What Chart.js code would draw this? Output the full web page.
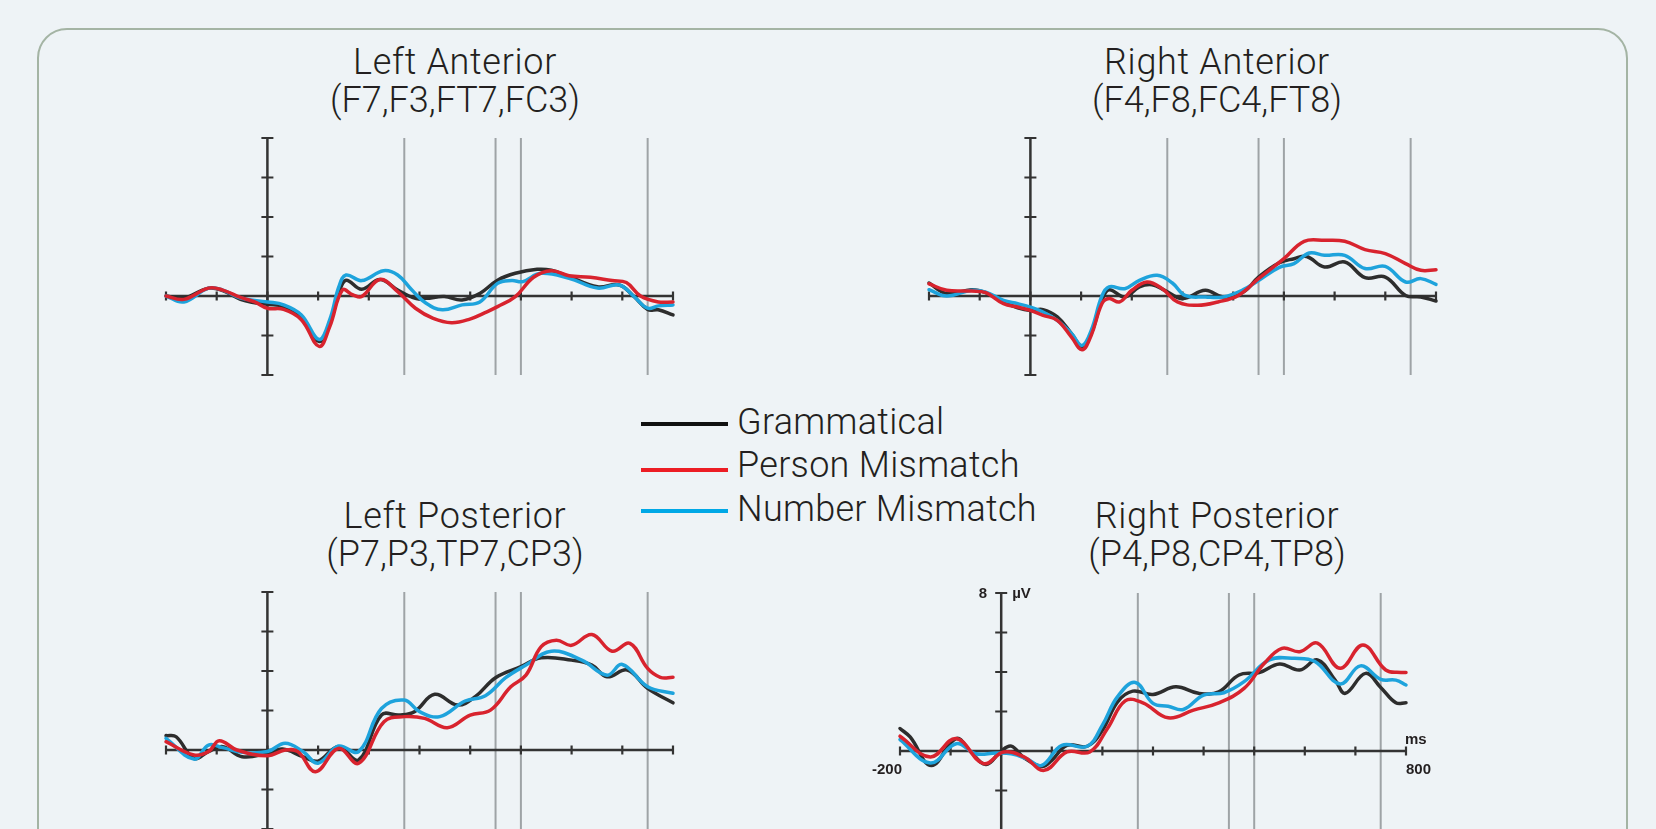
<!DOCTYPE html>
<html>
<head>
<meta charset="utf-8">
<script src="https://cdn.jsdelivr.net/npm/chart.js@4.4.1/dist/chart.umd.min.js"></script>
<style>
  html, body { margin: 0; padding: 0; }
  body {
    width: 1656px; height: 829px; overflow: hidden; position: relative;
    background: #eef3f6; color: #231f20;
    font-family: Roboto, "Liberation Sans", sans-serif;
  }
  .frame {
    position: absolute; left: 37px; top: 28px; width: 1591px; height: 840px;
    box-sizing: border-box; border: 2px solid #a4b4a4; border-radius: 30px;
  }
  .title {
    position: absolute; transform: translateX(-50%); white-space: nowrap;
    text-align: center; font-size: 36px; line-height: 38px; font-weight: 300;
  }
  .title .name { letter-spacing: 0.7px; }
  .panel { position: absolute; }
  .legend { position: absolute; left: 641px; top: 401px; }
  .legend .row { position: absolute; white-space: nowrap; font-size: 36px; line-height: 42px; font-weight: 300; letter-spacing: 0.3px; }
  .legend .swatch { position: absolute; left: 0; width: 87px; height: 4px; }
  .legend .label { left: 96px; }
</style>
</head>
<body>
<div class="frame"></div>

<div class="title" style="left:455px; top:43px;"><span class="name">Left Anterior</span><br>(F7,F3,FT7,FC3)</div>
<div class="title" style="left:1217px; top:43px;"><span class="name">Right Anterior</span><br>(F4,F8,FC4,FT8)</div>
<div class="title" style="left:455px; top:497px;"><span class="name">Left Posterior</span><br>(P7,P3,TP7,CP3)</div>
<div class="title" style="left:1217px; top:497px;"><span class="name">Right Posterior</span><br>(P4,P8,CP4,TP8)</div>

<div class="legend">
  <div class="swatch" style="top:21px; background:#111111;"></div>
  <div class="row label" style="top:0px;">Grammatical</div>
  <div class="swatch" style="top:67px; background:#ec1c24;"></div>
  <div class="row label" style="top:43px;">Person Mismatch</div>
  <div class="swatch" style="top:108px; background:#00a8e6;"></div>
  <div class="row label" style="top:87px;">Number Mismatch</div>
</div>

<script>
// Epoch and amplitude ranges (ms, µV)
const timeTicks = [-200, -100, 0, 100, 200, 300, 400, 500, 600, 700, 800];
const voltTicks = [-4, -2, 0, 2, 4, 6, 8];
const windowMarks = [270, 450, 500, 750];

// Grand-average waveforms: [time (ms), amplitude (µV)]
const laGrammatical = [[-200,0],[-165,-0.1],[-116,0.4],[-88,0.27],[-53,-0.17],[-25,-0.34],[0,-0.42],[32,-0.54],[67,-1.05],[102,-2.3],[123,-1.4],[141,0.13],[155,0.8],[186,0.34],[222,0.84],[257,0.3],[292,-0.12],[313,-0.12],[349,-0.03],[384,-0.2],[419,0.13],[454,0.8],[489,1.15],[532,1.35],[560,1.3],[595,0.98],[651,0.47],[694,0.56],[722,0],[750,-0.68],[771,-0.7],[800,-0.96]];
const laPerson = [[-200,0],[-165,-0.17],[-116,0.4],[-88,0.3],[-53,-0.07],[-25,-0.3],[0,-0.62],[32,-0.68],[67,-1.2],[102,-2.55],[123,-1.55],[148,0.3],[169,0.05],[186,-0.03],[222,0.84],[257,0.22],[292,-0.62],[327,-1.13],[363,-1.35],[398,-1.18],[433,-0.8],[454,-0.54],[489,-0.03],[525,0.95],[560,1.28],[595,1.03],[637,0.95],[680,0.78],[708,0.68],[736,0],[771,-0.3],[800,-0.3]];
const laNumber = [[-200,0],[-165,-0.3],[-116,0.4],[-88,0.3],[-53,-0.1],[0,-0.3],[32,-0.45],[67,-0.96],[102,-2.2],[123,-1.2],[141,0.47],[155,1.06],[186,0.78],[229,1.28],[257,1.06],[285,0.3],[313,-0.37],[345,-0.7],[384,-0.45],[419,-0.3],[454,0.64],[482,0.78],[504,0.73],[539,1.15],[595,0.9],[651,0.4],[694,0.56],[722,0],[750,-0.62],[771,-0.5],[800,-0.45]];

const raGrammatical = [[-200,0.66],[-165,0.12],[-116,0.32],[-88,0.17],[-53,-0.3],[-25,-0.6],[0,-0.73],[25,-0.69],[53,-1.06],[81,-1.9],[102,-2.55],[120,-1.9],[141,-0.22],[155,0.32],[186,-0.05],[215,0.46],[240,0.57],[265,0.29],[300,-0.13],[345,0.29],[380,-0.05],[420,0.2],[450,0.96],[490,1.67],[520,1.89],[545,2.0],[580,1.47],[620,1.72],[660,0.93],[700,0.96],[740,0.03],[770,-0.05],[800,-0.25]];
const raPerson = [[-200,0.62],[-165,0.29],[-116,0.25],[-88,0.17],[-53,-0.39],[-25,-0.56],[0,-0.73],[25,-0.98],[53,-1.23],[81,-2.08],[102,-2.72],[120,-1.99],[141,-0.39],[155,-0.13],[176,-0.3],[200,0.29],[230,0.71],[260,0.37],[290,-0.3],[330,-0.47],[370,-0.3],[410,0.03],[450,0.88],[500,1.89],[540,2.77],[580,2.82],[620,2.77],[660,2.35],[700,2.15],[740,1.64],[770,1.3],[800,1.33]];
const raNumber = [[-200,0.32],[-165,0],[-116,0.29],[-88,0.2],[-53,-0.22],[-25,-0.39],[0,-0.56],[25,-0.81],[53,-1.23],[81,-1.9],[102,-2.5],[120,-1.74],[141,0],[155,0.46],[186,0.37],[215,0.79],[250,1.05],[280,0.66],[305,0.03],[345,-0.05],[380,-0.05],[420,0.32],[450,0.79],[490,1.44],[520,1.64],[550,2.18],[580,2.06],[620,2.06],[660,1.39],[700,1.5],[740,0.71],[770,0.88],[800,0.59]];

const lpGrammatical = [[-200,0.73],[-180,0.67],[-145,-0.42],[-116,-0.08],[-88,0.17],[-50,-0.34],[0,-0.17],[30,0.05],[70,-0.34],[100,-0.56],[140,0.17],[180,-0.5],[225,1.77],[260,1.77],[290,1.94],[330,2.82],[375,2.28],[410,2.7],[450,3.66],[500,4.22],[540,4.67],[600,4.55],[640,4.3],[670,3.71],[710,4.05],[750,3.12],[800,2.39]];
const lpPerson = [[-200,0.42],[-145,-0.25],[-116,-0.08],[-95,0.47],[-60,0],[0,-0.29],[35,0],[60,-0.08],[95,-1.1],[140,0.08],[180,-0.67],[230,1.43],[270,1.69],[310,1.6],[355,1.13],[400,1.77],[440,2.02],[480,3.2],[510,3.79],[540,5.23],[570,5.56],[600,5.3],[640,5.85],[680,5.0],[715,5.4],[750,4.13],[775,3.68],[800,3.68]];
const lpNumber = [[-200,0.59],[-145,-0.46],[-116,0.25],[-88,0.12],[-50,-0.12],[0,-0.08],[35,0.34],[70,-0.08],[100,-0.67],[140,0.2],[180,-0.08],[225,2.1],[270,2.53],[300,1.94],[340,1.69],[390,2.48],[430,2.75],[470,3.66],[510,4.3],[560,5.0],[620,4.55],[670,3.79],[700,4.33],[750,3.2],[800,2.87]];

const rpGrammatical = [[-200,1.14],[-180,0.71],[-138,-0.73],[-89,0.63],[-60,-0.05],[-30,-0.68],[0,0],[20,0.25],[45,-0.34],[80,-0.78],[100,-0.47],[130,0.29],[170,0.24],[200,1.05],[230,2.49],[260,3.03],[300,2.86],[345,3.25],[390,2.92],[430,3.0],[470,3.85],[510,3.97],[550,4.41],[590,4.1],[625,4.61],[660,3.59],[680,2.92],[720,3.93],[750,3.22],[780,2.44],[800,2.44]];
const rpPerson = [[-200,0.75],[-140,-0.3],[-89,0.63],[-35,-0.64],[5,-0.05],[45,-0.3],[85,-0.98],[130,-0.05],[175,-0.05],[210,1.14],[245,2.54],[280,2.44],[330,1.68],[380,2.07],[430,2.44],[480,3.17],[520,4.44],[555,5.2],[590,5.03],[625,5.46],[670,4.19],[715,5.37],[760,4.1],[790,3.98],[800,3.98]];
const rpNumber = [[-200,0.58],[-140,-0.61],[-89,0.37],[-50,-0.14],[-10,-0.1],[20,-0.14],[50,-0.39],[80,-0.73],[120,0.29],[170,0.24],[200,1.31],[230,2.75],[265,3.47],[300,2.41],[330,2.27],[360,2.1],[400,2.83],[440,2.95],[480,3.51],[530,4.61],[580,4.69],[620,4.53],[670,3.39],[710,4.31],[750,3.63],[780,3.59],[800,3.34]];

const seriesColors = { grammatical: '#2d2d2d', person: '#d8232e', number: '#1ea3dc' };

// Plot rectangles (page px) for the four electrode regions
const panels = [
  { id: 'la', left: 166, top: 138, width: 507, height: 237, series: [laGrammatical, laPerson, laNumber], labels: false },
  { id: 'ra', left: 929, top: 138, width: 507, height: 237, series: [raGrammatical, raPerson, raNumber], labels: false },
  { id: 'lp', left: 166, top: 592, width: 507, height: 237, series: [lpGrammatical, lpPerson, lpNumber], labels: false },
  { id: 'rp', left: 900, top: 593, width: 506, height: 237, series: [rpGrammatical, rpPerson, rpNumber], labels: true }
];

// Cross-shaped axes through the origin, analysis-window markers and scale labels
const erpAxes = {
  id: 'erpAxes',
  beforeDatasetsDraw(chart, args, opts) {
    const { ctx, scales: { x, y } } = chart;
    const x0 = x.getPixelForValue(0), y0 = y.getPixelForValue(0);
    const yTop = y.getPixelForValue(voltTicks[voltTicks.length - 1]);
    const yBot = y.getPixelForValue(voltTicks[0]);
    const xL = x.getPixelForValue(timeTicks[0]);
    const xR = x.getPixelForValue(timeTicks[timeTicks.length - 1]);
    ctx.save();
    ctx.lineCap = 'butt';
    // window markers
    ctx.strokeStyle = '#9ea3a6';
    ctx.lineWidth = 2;
    windowMarks.forEach(t => {
      const px = x.getPixelForValue(t);
      ctx.beginPath(); ctx.moveTo(px, yTop); ctx.lineTo(px, yBot); ctx.stroke();
    });
    // axes
    ctx.strokeStyle = '#333333';
    ctx.lineWidth = 2.5;
    ctx.beginPath();
    ctx.moveTo(xL, y0); ctx.lineTo(xR, y0);
    ctx.moveTo(x0, yTop); ctx.lineTo(x0, yBot);
    ctx.stroke();
    ctx.lineWidth = 2.2;
    ctx.beginPath();
    voltTicks.forEach(v => {
      const py = y.getPixelForValue(v);
      ctx.moveTo(x0 - 6, py); ctx.lineTo(x0 + 6, py);
    });
    timeTicks.forEach(t => {
      const px = x.getPixelForValue(t);
      ctx.moveTo(px, y0 - 4.5); ctx.lineTo(px, y0 + 4.5);
    });
    ctx.stroke();
    if (opts.labels) {
      ctx.fillStyle = '#231f20';
      ctx.font = 'bold 15px "Liberation Sans", Arial, sans-serif';
      ctx.textBaseline = 'middle';
      ctx.textAlign = 'right';
      ctx.fillText(String(voltTicks[voltTicks.length - 1]), x0 - 14, yTop + 1);
      ctx.textAlign = 'left';
      ctx.fillText('µV', x0 + 11, yTop + 1);
      ctx.textBaseline = 'top';
      ctx.textAlign = 'right';
      ctx.fillText(String(timeTicks[0]), xL + 2, y0 + 11);
      ctx.textAlign = 'left';
      ctx.fillText(String(timeTicks[timeTicks.length - 1]), xR, y0 + 11);
      ctx.textBaseline = 'alphabetic';
      ctx.fillText('ms', xR - 1, y0 - 7);
    }
    ctx.restore();
  }
};

panels.forEach(p => {
  const pad = p.labels ? { left: 45, right: 45, top: 14, bottom: 30 } : { left: 14, right: 14, top: 14, bottom: 14 };
  const canvas = document.createElement('canvas');
  canvas.className = 'panel';
  canvas.width = p.width + pad.left + pad.right;
  canvas.height = p.height + pad.top + pad.bottom;
  canvas.style.left = (p.left - pad.left) + 'px';
  canvas.style.top = (p.top - pad.top) + 'px';
  canvas.style.width = canvas.width + 'px';
  canvas.style.height = canvas.height + 'px';
  document.body.appendChild(canvas);

  const [gram, person, number] = p.series;
  const toXY = arr => arr.map(([t, v]) => ({ x: t, y: v }));
  const line = (label, data, color, order) => ({
    label, data: toXY(data), borderColor: color, borderWidth: 3.5,
    pointRadius: 0, tension: 0.4, fill: false, order,
    borderCapStyle: 'round', borderJoinStyle: 'round'
  });

  new Chart(canvas, {
    type: 'line',
    data: {
      datasets: [
        line('Person Mismatch', person, seriesColors.person, 0),
        line('Number Mismatch', number, seriesColors.number, 1),
        line('Grammatical', gram, seriesColors.grammatical, 2)
      ]
    },
    options: {
      responsive: false,
      animation: false,
      devicePixelRatio: 1,
      layout: { padding: pad },
      clip: false,
      plugins: { legend: { display: false }, title: { display: false }, tooltip: { enabled: false }, erpAxes: { labels: p.labels } },
      scales: {
        x: { type: 'linear', min: timeTicks[0], max: timeTicks[timeTicks.length - 1], display: false },
        y: { type: 'linear', min: voltTicks[0], max: voltTicks[voltTicks.length - 1], display: false }
      }
    },
    plugins: [erpAxes]
  });
});
</script>
</body>
</html>
